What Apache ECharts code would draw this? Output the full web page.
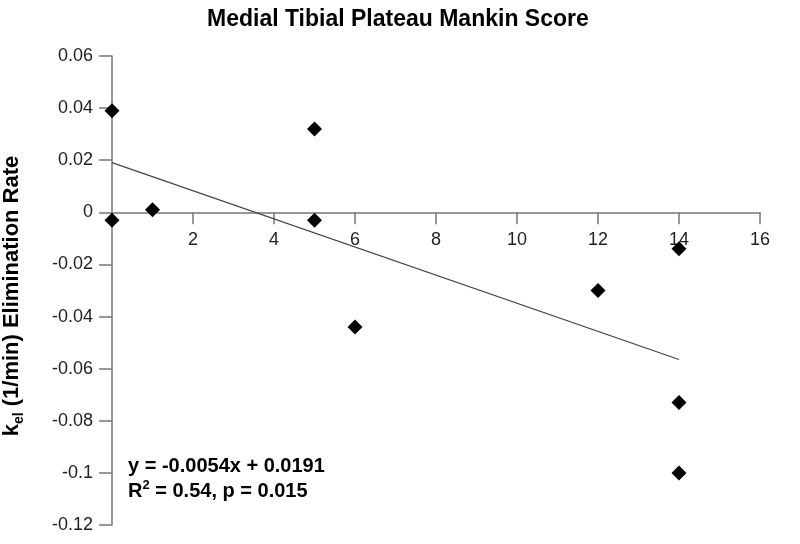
<!DOCTYPE html>
<html><head><meta charset="utf-8">
<script src="https://cdn.jsdelivr.net/npm/echarts@6/dist/echarts.min.js"></script>
<style>html,body{margin:0;padding:0;background:#fff}#c{width:800px;height:544px}</style>
</head><body><div id="c"></div>
<script>
var scoreX = [0, 0, 1, 5, 5, 6, 12, 14, 14, 14];
var rateY = [0.039, -0.003, 0.001, 0.032, -0.003, -0.044, -0.030, -0.014, -0.073, -0.100];
var trendX = [0, 14];
var trendY = [0.0191, -0.0565];
var xTicks = {min: 0, max: 16, interval: 2};
var yTicks = {min: -0.12, max: 0.06, interval: 0.02};
var titleText = 'Medial Tibial Plateau Mankin Score';
var eqLines = ['y = -0.0054x + 0.0191', 'R{sup|2} = 0.54, p = 0.015'];

var pts = scoreX.map(function(x, i){ return [x, rateY[i]]; });
var tl = trendX.map(function(x, i){ return [x, trendY[i]]; });
var font = 'Liberation Sans, Arial, sans-serif';
var gridTop = 56, gridBottom = 19, H = 544;
var gridH = H - gridTop - gridBottom;
var zeroFrac = (yTicks.max - 0) / (yTicks.max - yTicks.min);
var xOffset = -(gridH * (1 - zeroFrac));
var chart = echarts.init(document.getElementById('c'));
chart.setOption({
  backgroundColor: '#fff',
  animation: false,
  title: {text: titleText, left: 202, top: 3, textStyle: {fontFamily: font, fontSize: 23, fontWeight: 'bold', color: '#000'}},
  grid: {left: 112, right: 40, top: gridTop, bottom: gridBottom, containLabel: false, outerBoundsMode: 'none'},
  xAxis: {type: 'value', min: xTicks.min, max: xTicks.max, interval: xTicks.interval, position: 'bottom', offset: xOffset,
    axisLine: {onZero: false, lineStyle: {color: '#777', width: 1.5}},
    axisTick: {show: true, length: 12, lineStyle: {color: '#777', width: 1.5}},
    axisLabel: {fontFamily: font, fontSize: 18, color: '#222', margin: 19,
      formatter: function(v){ return v === 0 ? '' : String(v); }},
    splitLine: {show: false}},
  yAxis: {type: 'value', min: yTicks.min, max: yTicks.max, interval: yTicks.interval,
    axisLine: {show: true, onZero: false, lineStyle: {color: '#777', width: 1.5}},
    axisTick: {show: true, length: 13, lineStyle: {color: '#777', width: 1.5}},
    axisLabel: {fontFamily: font, fontSize: 18, color: '#222', margin: 19,
      formatter: function(v){ return String(Math.round(v * 100) / 100); }},
    splitLine: {show: false}},
  graphic: [
    {type: 'text', x: 12, y: 296, rotation: Math.PI / 2, style: {
      text: '{b|k}{s|el}{b| (1/min) Elimination Rate}', align: 'center', verticalAlign: 'middle',
      rich: {b: {fontFamily: font, fontSize: 22, fontWeight: 'bold', fill: '#000', lineHeight: 28, verticalAlign: 'middle'},
             s: {fontFamily: font, fontSize: 14, fontWeight: 'bold', fill: '#000', lineHeight: 28, verticalAlign: 'bottom', padding: [8, 0, 0, 0]}}}},
    {type: 'text', left: 128, top: 454, style: {
      text: eqLines.join('\n'), fontFamily: font, fontSize: 20, fontWeight: 'bold', fill: '#000', lineHeight: 25,
      rich: {sup: {fontFamily: font, fontSize: 13, fontWeight: 'bold', fill: '#000', verticalAlign: 'top', lineHeight: 25, padding: [0, 0, 10, 0]}}}}
  ],
  series: [
    {type: 'line', data: tl, symbol: 'none', lineStyle: {color: '#444', width: 1.2}, silent: true, z: 1},
    {type: 'scatter', data: pts, symbol: 'diamond', symbolSize: 15, itemStyle: {color: '#000', opacity: 1}, z: 3}
  ]
});
</script></body></html>
